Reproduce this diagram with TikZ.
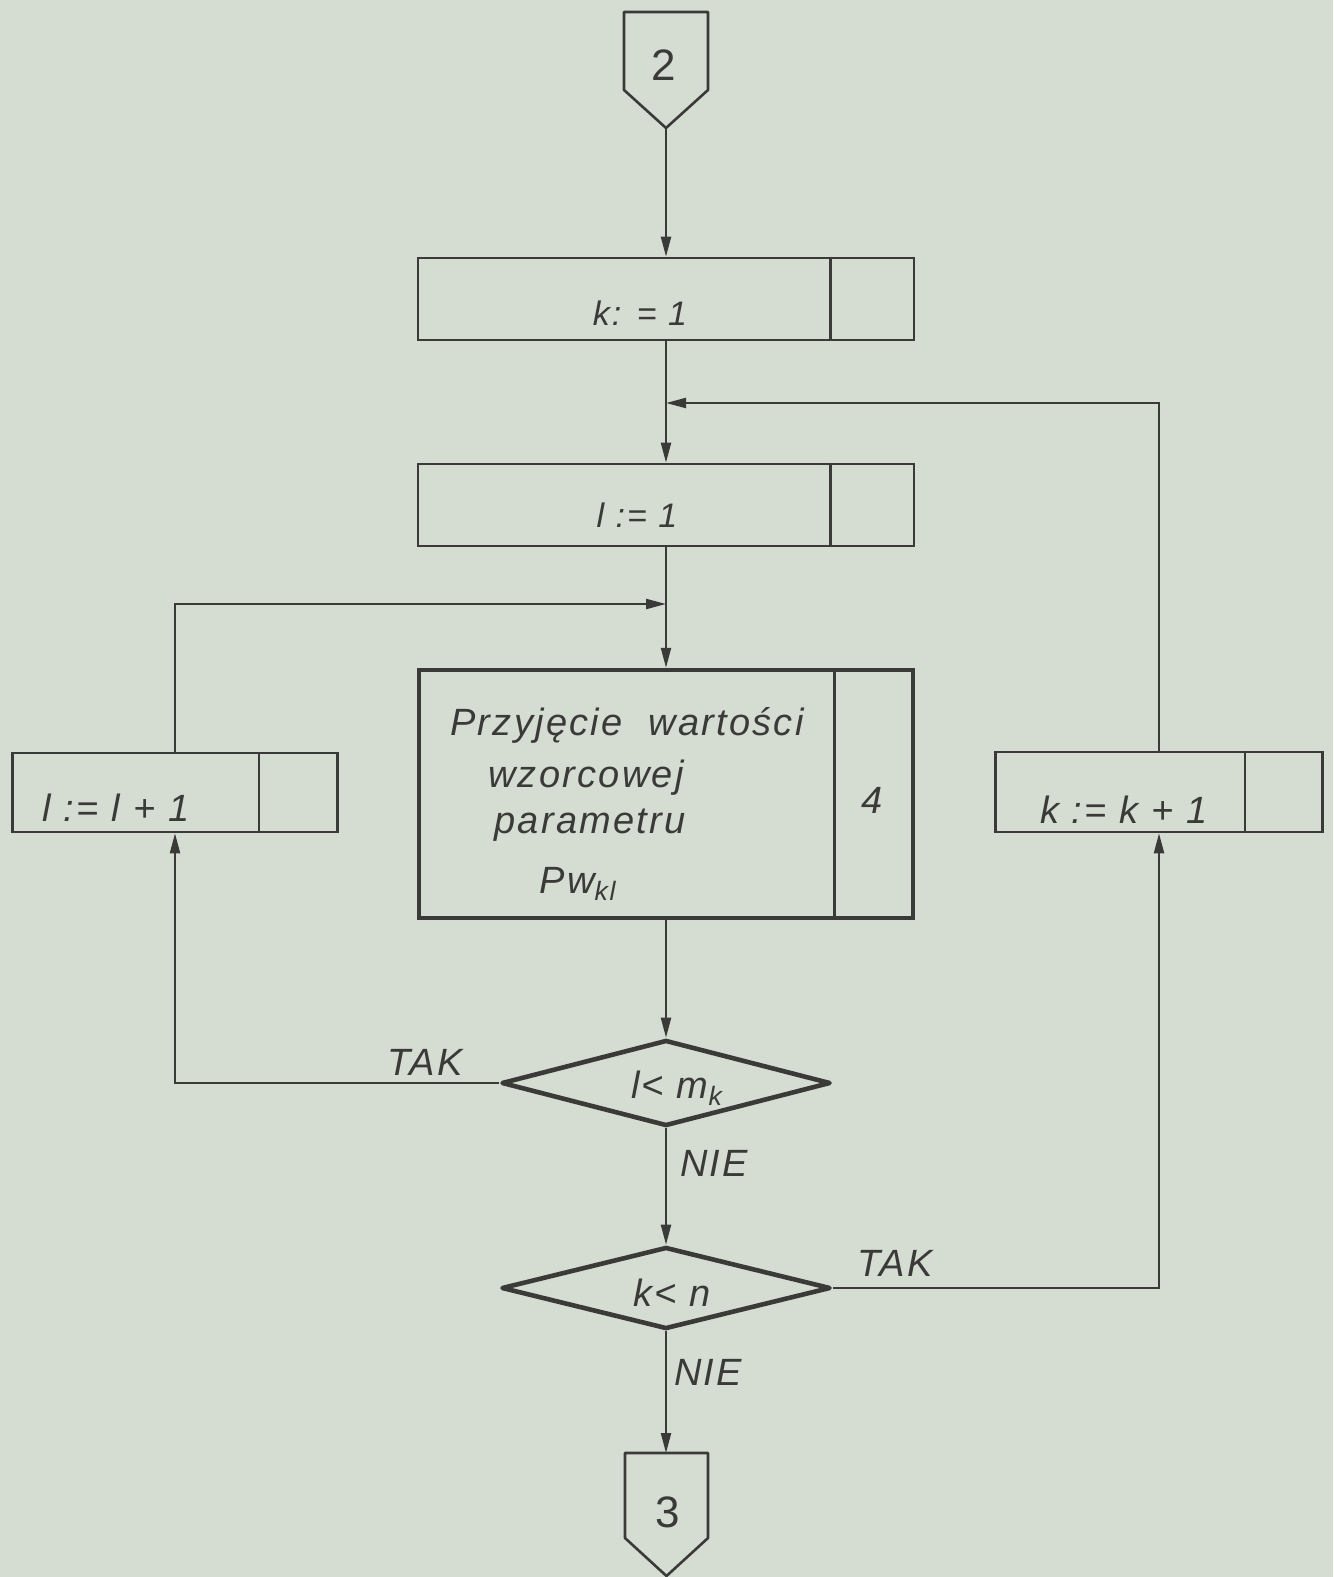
\documentclass[tikz,border=0pt]{standalone}
\usepackage{fontspec}
\setmainfont{Liberation Sans}[LetterSpace=6]
\usetikzlibrary{shapes.geometric,arrows.meta}
\definecolor{bg}{HTML}{D5DCD2}
\definecolor{ink}{HTML}{3A3B38}
\begin{document}
\begin{tikzpicture}[x=0.5pt,y=-0.5pt,
  boxline/.style={draw=ink,line width=1.3pt},
  pbox/.style={boxline,inner sep=0pt},
  thickbox/.style={draw=ink,line width=2.2pt,inner sep=0pt},
  cond/.style={diamond,draw=ink,line width=2.3pt,line join=round,inner sep=0pt,minimum width=164.5pt},
  txt/.style={text=ink,font=\fontsize{17}{21}\selectfont\itshape,inner sep=0pt},
  bigtxt/.style={text=ink,font=\fontsize{19}{23}\selectfont\itshape,inner sep=0pt},
  numtxt/.style={text=ink,font=\fontsize{22}{26}\selectfont,inner sep=0pt},
  conn/.style={draw=ink,line width=1.1pt,-{Triangle[length=10pt,width=5pt]}}]
\fill[bg] (0,0) rectangle (1333,1577);
\useasboundingbox (0,0) rectangle (1333,1577);

% connector 2
\draw[boxline,line join=round] (624,12) -- (708,12) -- (708,90) -- (666,128) -- (624,90) -- cycle;
\node[numtxt] (c2) at (664,65) {2};
\coordinate (c2tip) at (666,128);

% k := 1
\node[pbox,minimum width=248pt,minimum height=41pt] (k1) at (666,299) {};
\draw[boxline] ([xshift=-42.5pt]k1.north east) -- ([xshift=-42.5pt]k1.south east);
\node[txt] (k1t) at (640,313) {k: = 1};

% l := 1
\node[pbox,minimum width=248pt,minimum height=41pt] (l1) at (666,505) {};
\draw[boxline] ([xshift=-42.5pt]l1.north east) -- ([xshift=-42.5pt]l1.south east);
\node[txt] (l1t) at (637,515) {l := 1};

% big box
\node[thickbox,minimum width=247pt,minimum height=124pt] (big) at (666,794) {};
\draw[draw=ink,line width=1.5pt] ([xshift=-40.5pt]big.north east) -- ([xshift=-40.5pt]big.south east);
\node[bigtxt,anchor=base] (b1) at (627,735) {Przyjęcie\ \ wartości};
\node[bigtxt,anchor=base] (b2) at (586,787) {wzorcowej};
\node[bigtxt,anchor=base] (b3) at (590,833) {parametru};
\node[bigtxt,anchor=base] (b4) at (578,893) {Pw\textsubscript{kl}};
\node[bigtxt] (b5) at (872,800) {4};

% l := l+1
\node[pbox,minimum width=162.5pt,minimum height=39.5pt] (ll) at (175,792.5) {};
\draw[boxline] ([xshift=-40pt]ll.north east) -- ([xshift=-40pt]ll.south east);
\node[bigtxt] (llt) at (116,808) {l := l + 1};

% k := k+1
\node[pbox,minimum width=163.5pt,minimum height=40pt] (kk) at (1159,792) {};
\draw[boxline] ([xshift=-39.5pt]kk.north east) -- ([xshift=-39.5pt]kk.south east);
\node[bigtxt] (kkt) at (1124,810) {k := k + 1};

% decisions
\node[cond,minimum height=43pt] (d1) at (666,1083) {};
\node[bigtxt] (d1t) at (677,1088) {l< m\textsubscript{k}};
\node[cond,minimum height=41pt] (d2) at (666,1288) {};
\node[bigtxt] (d2t) at (672,1293) {k< n};

\node[bigtxt] (tak1) at (425,1062) {TAK};
\node[bigtxt] (nie1) at (714,1163) {NIE};
\node[bigtxt] (tak2) at (895,1263) {TAK};
\node[bigtxt] (nie2) at (708,1372) {NIE};

% connector 3
\draw[boxline,line join=round] (625,1453) -- (708,1453) -- (708,1538) -- (666.5,1576) -- (625,1538) -- cycle;
\node[numtxt] (c3) at (668,1512) {3};
\coordinate (c3top) at (666,1453);

% connectors
\coordinate (m1) at (666,403);
\coordinate (m2) at (666,604);
\draw[conn] (c2tip) -- (k1.north);
\draw[conn] (k1.south) -- (l1.north);
\draw[conn] (kk.north) |- (m1);
\draw[conn] (l1.south) -- (big.north);
\draw[conn] (ll.north) |- (m2);
\draw[conn] (big.south) -- (d1.north);
\draw[conn] (d1.west) -| (ll.south);
\draw[conn] (d1.south) -- (d2.north);
\draw[conn] (d2.east) -| (kk.south);
\draw[conn] (d2.south) -- (c3top);
\end{tikzpicture}
\end{document}
